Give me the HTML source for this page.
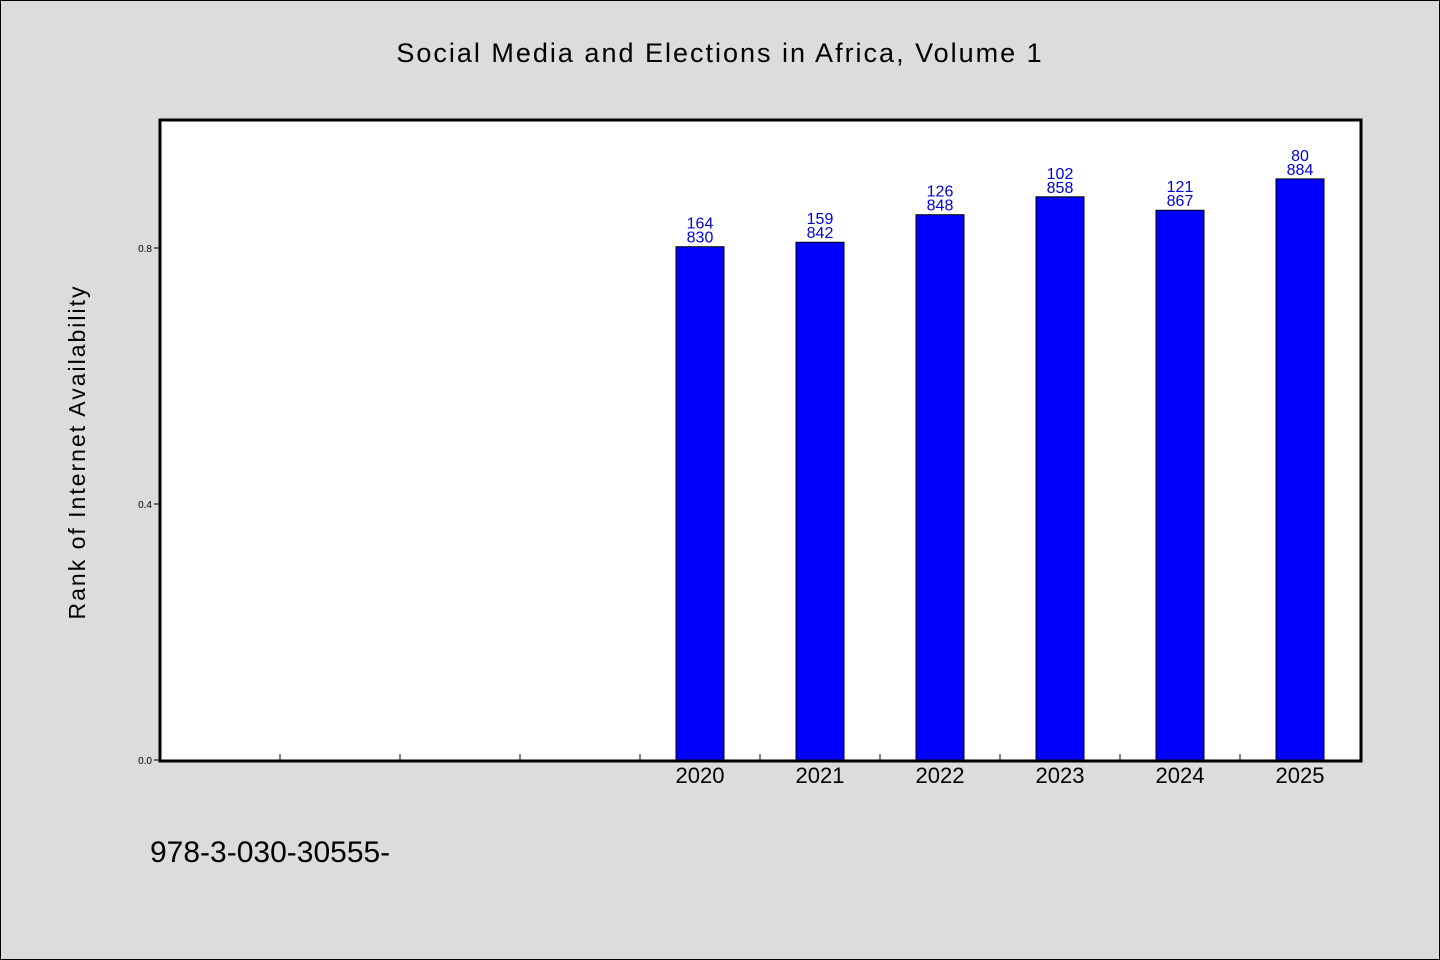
<!DOCTYPE html>
<html><head><meta charset="utf-8"><style>
html,body{margin:0;padding:0;background:#dcdcdc;}
svg{display:block;font-family:"WenQuanYi Zen Hei","Liberation Sans",sans-serif;}
</style></head><body>
<svg id="chart" width="1440" height="960">
<rect x="0.5" y="0.5" width="1439" height="959" fill="#dcdcdc" stroke="#000"/>
<text x="720" y="62" text-anchor="middle" font-size="27" letter-spacing="2">Social Media and Elections in Africa, Volume 1</text>
<rect x="160" y="120" width="1201" height="641" fill="#fff"/>
<g id="bars"></g>
<g id="axes"></g>
<rect x="160" y="120" width="1201" height="641" fill="none" stroke="#000" stroke-width="3"/>
<text transform="translate(85,452) rotate(-90)" text-anchor="middle" font-size="23" letter-spacing="2">Rank of Internet Availability</text>
<text x="150" y="862" font-size="30">978-3-030-30555-</text>
</svg>
<script>
const categories = ["2020","2021","2022","2023","2024","2025"];
const values = [0.802, 0.809, 0.852, 0.880, 0.859, 0.908];
const ranks = ["164","159","126","102","121","80"];
const labels = ["830","842","848","858","867","884"];
const yTicks = [0.0, 0.4, 0.8];
const yTickLabels = ["0.0","0.4","0.8"];
const slots = 10, firstSlot = 4;
const x0 = 160, x1 = 1360, y0 = 760, yTop = 120, yMax = 1.0;
const slotW = (x1 - x0) / slots;
function xScale(i){ return x0 + (i + firstSlot + 0.5) * slotW; }
function yScale(v){ return y0 - v / yMax * (y0 - yTop); }
const NS = "http://www.w3.org/2000/svg";
const bars = document.getElementById('bars');
const axes = document.getElementById('axes');
function mk(tag, attrs, parent){ const e=document.createElementNS(NS,tag); for(const k in attrs) e.setAttribute(k,attrs[k]); parent.appendChild(e); return e; }
categories.forEach((c,i)=>{
  const cx = xScale(i), top = yScale(values[i]);
  const r = mk('rect',{x:cx-24,y:top,width:48,height:y0-top,fill:'#0000ff',stroke:'#000','stroke-width':1},bars);
  
  
  const t1 = mk('text',{x:cx,y:top-18,'text-anchor':'middle','font-size':16,fill:'#0000dd'},bars);
  t1.textContent = ranks[i];
  
  
  const t2 = mk('text',{x:cx,y:top-4,'text-anchor':'middle','font-size':16,fill:'#0000dd'},bars);
  t2.textContent = labels[i];
  
  
  const xl = mk('text',{x:cx,y:783,'text-anchor':'middle','font-size':22},axes);
  xl.textContent = c;
  
  
});
for(let k=1;k<slots;k++){
  const tx = x0 + k*slotW;
  const l = mk('line',{x1:tx,x2:tx,y1:y0,y2:y0-6,stroke:'#000','stroke-width':1},axes);
  
  
}
yTicks.forEach((v,i)=>{
  const ty = yScale(v);
  const l = mk('line',{x1:x0-6,x2:x0,y1:ty,y2:ty,stroke:'#000','stroke-width':1},axes);
  
  
  const t = mk('text',{x:x0-8,y:ty+4,'text-anchor':'end','font-size':10},axes);
  t.textContent = yTickLabels[i];
  
  
});
</script>
</body></html>
